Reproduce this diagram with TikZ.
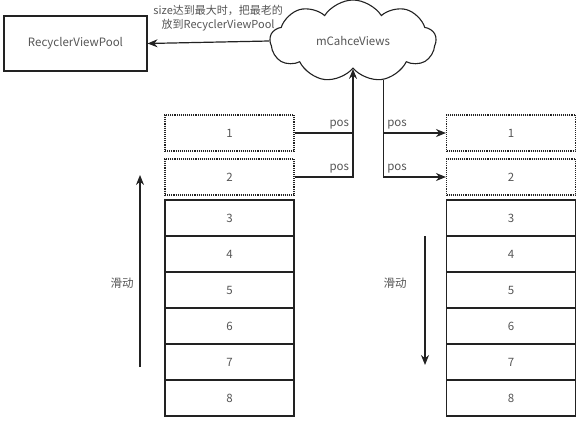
\documentclass[tikz,border=0pt]{standalone}
\usepackage{fontspec}
\setmainfont{Noto Sans CJK SC}
\usetikzlibrary{calc}
\usetikzlibrary{arrows.meta}
\usetikzlibrary{shapes.symbols}

\definecolor{inkline}{HTML}{222222}
\definecolor{inktext}{HTML}{555555}

\tikzset{
  cell/.style={draw=inkline, line width=1.1pt, minimum width=129pt, minimum height=36pt, inner sep=0pt, text=inktext},
  ghost/.style={cell, densely dotted},
  link/.style={draw=inkline, line width=1.2pt},
}

\begin{document}
\begin{tikzpicture}[x=1pt, y=-1pt, >={Stealth[length=10pt,width=8pt]}, font=\fontsize{11.5}{14}\selectfont]
\useasboundingbox (0,0) rectangle (583,423);
\node[draw=inkline, line width=1.1pt, text=inktext, minimum width=143pt, minimum height=55pt] (pool) at (75.5,43.5) {RecyclerViewPool};
\node[cloud, cloud ignores aspect, draw=inkline, line width=1.1pt, text=inktext, cloud puffs=9, cloud puff arc=115, inner sep=0pt, minimum width=166pt, minimum height=82pt] (cache) at (353,41) {mCahceViews};
\draw[link, ->] (cache.west) -- (pool.east) node[pos=0.42, above=7pt, align=center, text=inktext, font=\fontsize{11}{14}\selectfont] {size达到最大时，把最老的\\放到RecyclerViewPool};

% left list, scrolled up
\node[ghost] (l1) at (229.5,133) {1};
\node[ghost] (l2) at (229.5,177) {2};
\foreach \i in {3,...,8}
  \node[cell] (l\i) at (229.5,{200+(\i-3)*36+18}) {\i};

% right list, scrolled down
\node[ghost] (r1) at (511,133) {1};
\node[ghost] (r2) at (511,177) {2};
\foreach \i in {3,...,8}
  \node[cell] (r\i) at (511,{200+(\i-3)*36+18}) {\i};

% into the cache
\draw[link] (l1.east) -- (l1.east -| cache.south) node[above left, text=inktext] {pos};
\draw[link, ->] (l2.east) -| (cache.south) node[pos=0.5, above left, text=inktext] {pos};

% out of the cache
\draw[link, ->] (cache.-52) |- (r1.west) node[pos=0.5, above right, text=inktext] {pos};
\draw[link, ->] (cache.-52) |- (r2.west) node[pos=0.5, above right, text=inktext] {pos};

% scroll direction
\coordinate (upA) at (140,367);
\coordinate (upB) at (140,175);
\draw[link, ->] (upA) -- (upB);
\node[text=inktext] (lscroll) at (122,283) {滑动};
\coordinate (downA) at (425,236);
\coordinate (downB) at (425,365);
\draw[link, ->] (downA) -- (downB);
\node[text=inktext] (rscroll) at (395,283) {滑动};
\end{tikzpicture}
\end{document}
